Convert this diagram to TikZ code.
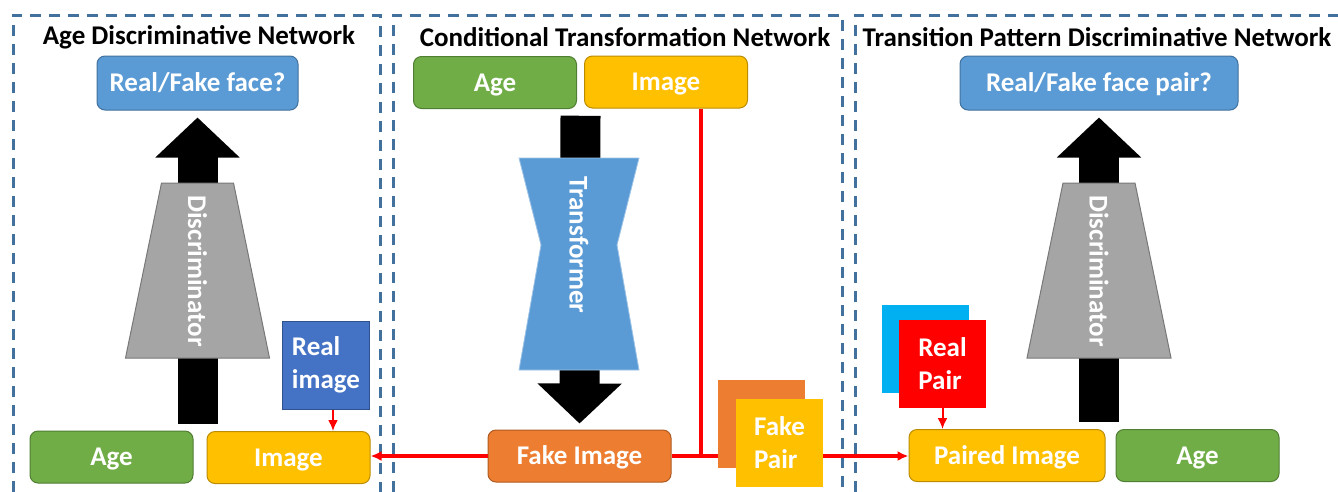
\documentclass[tikz,border=0pt]{standalone}
\usepackage{fontspec}
\setmainfont{Carlito}
\usetikzlibrary{positioning,arrows.meta,calc}
\definecolor{frameblue}{HTML}{41719C}
\definecolor{outblue}{HTML}{5B9BD5}
\definecolor{agegreen}{HTML}{70AD47}
\definecolor{agegreendark}{HTML}{507E32}
\definecolor{imgyellow}{HTML}{FFC000}
\definecolor{imgyellowdark}{HTML}{BC8C00}
\definecolor{fakeorange}{HTML}{ED7D31}
\definecolor{fakeorangedark}{HTML}{AE5A21}
\definecolor{realblue}{HTML}{4472C4}
\definecolor{realbluedark}{HTML}{2F528F}
\definecolor{paircyan}{HTML}{00B0F0}
\definecolor{discgrey}{HTML}{A5A5A5}
\definecolor{discgreydark}{HTML}{787878}
\definecolor{transedge}{HTML}{9DC3E6}
\begin{document}
\begin{tikzpicture}[
x=1pt,
y=-1pt,
font=\fontsize{27}{29}\selectfont\bfseries,
frame/.style={
  draw=frameblue,
  line width=3pt,
  dash pattern=on 11pt off 8pt
  },
title/.style={
  text=black,
  inner sep=0pt
  },
box/.style={
  rounded corners=8pt,
  line width=1pt,
  text=white,
  text height=17pt,
  text depth=0pt,
  minimum height=52pt,
  inner sep=0pt
  },
agebox/.style={
  box,
  fill=agegreen,
  draw=agegreendark,
  minimum width=163pt
  },
imgbox/.style={
  box,
  fill=imgyellow,
  draw=imgyellowdark,
  minimum width=163pt
  },
outbox/.style={
  box,
  fill=outblue,
  draw=frameblue,
  minimum height=54pt
  },
card/.style={
  minimum width=87pt,
  minimum height=88pt,
  inner sep=0pt,
  text=white,
  align=left,
  font=\fontsize{27}{33}\selectfont\bfseries
  },
link/.style={
  draw=red,
  line width=3.2pt
  },
blockarrow/.style={
  line width=40pt,
  -{Triangle[length=40pt,width=82pt]}
  },
discbody/.style={
  fill=discgrey,
  draw=discgreydark,
  line width=1pt
  },
transbody/.style={
  fill=outblue,
  draw=transedge,
  line width=0.8pt
  },
>={Latex[length=11pt,width=10pt]}
]
\useasboundingbox (0,0) rectangle (1338,491);
\foreach \l/\r in {13/380,393/842,855/1370}
  \draw[frame] (\l,530) rectangle (\r,15);
\node[title] (t1) at (199,37) {Age Discriminative Network};
\node[title] (t2) at (625,37) {Conditional Transformation Network};
\node[title] (t3) at (1097,37) {Transition Pattern Discriminative Network};
\node[outbox, minimum width=201pt] (rf1) at (197.5,83) {Real/Fake face?};
\node[agebox] (age1) at (111.5,457) {Age};
\node[imgbox] (img1) at (288.5,457.5) {Image};
\node[card, fill=realblue, draw=realbluedark, line width=1pt] (real1) at (326,365) {Real\\image};
\node[agebox] (age2) at (495,82.5) {Age};
\node[imgbox] (img2) at (666,82) {Image};
\node[box, fill=fakeorange, draw=fakeorangedark, minimum width=183pt] (fake) at (579.5,456) {Fake Image};
\node[outbox, minimum width=278pt] (rf3) at (1099,83) {Real/Fake face pair?};
\node[imgbox, minimum width=196pt] (pair3) at (1007,455.5) {Paired Image};
\node[agebox] (age3) at (1197.5,455.5) {Age};
\foreach \n in {1,3}{
  \draw[blockarrow] ([yshift=7pt]rf\n.south |- age\n.north) -- ([yshift=-7pt]rf\n.south);
  \draw[discbody] ($(rf\n.south |- 0,183)+(-36,0)$) -- ($(rf\n.south |- 0,183)+(36,0)$)
    -- ($(rf\n.south |- 0,358)+(72,0)$) -- ($(rf\n.south |- 0,358)+(-72,0)$) -- cycle;
  \node[rotate=-90, text=white] (disc\n) at (rf\n.south |- 0,271) {Discriminator};
}
\draw[blockarrow] ([yshift=-7pt]$(age2.south east)!.5!(img2.south west)$) -- ([yshift=6pt]fake.north);
\draw[transbody] (519,158) -- (639,158) -- (617,245) -- (639,370) -- (519,370) -- (541,245) -- cycle;
\node[rotate=-90, text=white] (trans) at (579,245) {Transformer};
\coordinate (jn) at ($(img2.south)+(35,0)$);
\draw[link] (jn) -- (jn |- fake.east);
\draw[link, ->] (fake.west) -- (fake.west -| img1.east);
\draw[link, ->] (fake.east) -- (fake.east -| pair3.west);
\draw[link, line width=2pt, ->] ([xshift=7pt]real1.south) -- ([xshift=7pt]real1.south |- img1.north);
\node[card, fill=fakeorange] (fakeback) at (761,424) {};
\node[card, fill=imgyellow] (fakepair) at (779.5,442.5) {Fake\\Pair};
\node[card, fill=paircyan] (realback) at (925,349) {};
\node[card, fill=red] (realpair) at (942.5,363.5) {Real\\Pair};
\draw[link, line width=2pt, ->] (realpair.south) -- (realpair.south |- pair3.north);
\end{tikzpicture}
\end{document}
